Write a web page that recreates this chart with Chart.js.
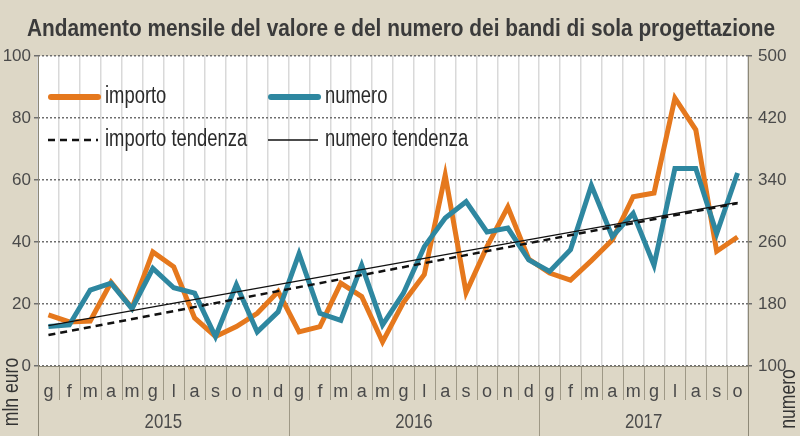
<!DOCTYPE html>
<html lang="it">
<head>
<meta charset="utf-8">
<title>Bandi di sola progettazione</title>
<script src="https://cdn.jsdelivr.net/npm/chart.js@4/dist/chart.umd.min.js"></script>
<style>
  html, body { margin: 0; padding: 0; background: #ddd7c6; }
  #wrap { width: 800px; height: 436px; }
</style>
</head>
<body>
<div id="wrap"><canvas id="grafico" width="800" height="436"></canvas></div>
<script>
/* Andamento mensile bandi di sola progettazione: importo (mln euro, asse sx)
   e numero (asse dx), con le due rette di tendenza. */

const TITOLO = "Andamento mensile del valore e del numero dei bandi di sola progettazione";
const MESI = ["g", "f", "m", "a", "m", "g", "l", "a", "s", "o", "n", "d",
              "g", "f", "m", "a", "m", "g", "l", "a", "s", "o", "n", "d",
              "g", "f", "m", "a", "m", "g", "l", "a", "s", "o"];
const ANNI = ["2015", "2016", "2017"];
const MESI_PER_ANNO = [12, 12, 10];

const IMPORTO = [16.5, 14.2, 14.5, 27, 18.7, 36.8, 32, 15.5, 9.5, 12.7, 17, 24,
                 11, 12.7, 26.7, 22.4, 7.8, 20.5, 29.5, 61.6, 23.7, 38.5, 51.3, 34.5,
                 30, 27.7, 34, 40.6, 54.6, 55.8, 86.4, 76.2, 37, 41.6];
const NUMERO = [151, 153, 198, 207, 174, 226, 201, 194, 138, 205, 144, 170,
                245, 168, 159, 230, 153, 194, 254, 291, 312, 273, 278, 237,
                222, 250, 333, 267, 297, 230, 355, 355, 271, 349];
// tendenze: valore al primo e all'ultimo mese
const IMPORTO_TENDENZA = [10, 52.5];
const NUMERO_TENDENZA = [152, 311];

const TICK_EURO = [0, 20, 40, 60, 80, 100];
const TICK_NUMERO = [100, 180, 260, 340, 420, 500];

const ARANCIO = "#e5781d";
const BLU = "#2e87a0";
const BEIGE = "#ddd7c6";
const FONT = "'Liberation Sans', Arial, sans-serif";
const STRETTO = 0.8; // il carattere originale è condensato

// testo condensato: scala orizzontale sul canvas
function testo(ctx, t, x, y, font, colore, allinea = "left", ruota = 0) {
  ctx.save();
  ctx.font = font;
  ctx.fillStyle = colore;
  ctx.textAlign = allinea;
  ctx.textBaseline = "middle";
  ctx.translate(x, y);
  if (ruota) ctx.rotate(ruota);
  ctx.scale(STRETTO, 1);
  ctx.fillText(t, 0, 0);
  ctx.restore();
}

const tendenza = (estremi) =>
  MESI.map((_, i) => (i === 0 ? estremi[0] : i === MESI.length - 1 ? estremi[1] : null));

const sfondo = {
  id: "sfondo",
  beforeDraw(chart) {
    const { ctx, chartArea: a } = chart;
    ctx.save();
    ctx.fillStyle = BEIGE;
    ctx.fillRect(0, 0, chart.width, chart.height);
    ctx.fillStyle = "#fff";
    ctx.fillRect(a.left, a.top, a.right - a.left, a.bottom - a.top);
    ctx.restore();
  },
};

const decorazioni = {
  id: "decorazioni",
  afterDraw(chart) {
    const { ctx, chartArea: a, scales } = chart;
    const x = scales.x;
    ctx.save();

    // titolo, adattato alla larghezza
    ctx.font = `bold 23px ${FONT}`;
    const sx = 748 / ctx.measureText(TITOLO).width;
    ctx.save();
    ctx.fillStyle = "#3b3b3b";
    ctx.textAlign = "center";
    ctx.textBaseline = "middle";
    ctx.translate(401, 30);
    ctx.scale(sx, 1);
    ctx.fillText(TITOLO, 0, 0);
    ctx.restore();

    // separatori dei mesi e degli anni sotto l'area del grafico
    const confine = (i) => (x.getPixelForValue(i - 1) + x.getPixelForValue(i)) / 2;
    const fineAnno = [];
    MESI_PER_ANNO.reduce((s, n) => { fineAnno.push(s + n); return s + n; }, 0);
    ctx.strokeStyle = "#9e9886";
    ctx.lineWidth = 1;
    for (let i = 1; i < MESI.length; i++) {
      const px = Math.round(confine(i)) + 0.5;
      const lungo = fineAnno.includes(i);
      ctx.beginPath();
      ctx.moveTo(px, a.bottom);
      ctx.lineTo(px, lungo ? chart.height : a.bottom + 34);
      ctx.stroke();
    }
    // bordi verticali
    ctx.strokeStyle = "#8d8877";
    [a.left, a.right].forEach((bx) => {
      ctx.beginPath();
      ctx.moveTo(Math.round(bx) + 0.5, a.top);
      ctx.lineTo(Math.round(bx) + 0.5, chart.height);
      ctx.stroke();
    });
    ctx.beginPath();
    ctx.moveTo(a.left, a.bottom + 0.5);
    ctx.lineTo(a.right, a.bottom + 0.5);
    ctx.stroke();

    // etichette degli anni
    let inizio = 0;
    ANNI.forEach((anno, k) => {
      const fine = inizio + MESI_PER_ANNO[k] - 1;
      const cx = (x.getPixelForValue(inizio) + x.getPixelForValue(fine)) / 2;
      testo(ctx, anno, cx, a.bottom + 56, `21px ${FONT}`, "#4a4a4a", "center");
      inizio = fine + 1;
    });

    // titoli degli assi, ruotati
    testo(ctx, "mln euro", 12, 392, `22px ${FONT}`, "#333", "center", -Math.PI / 2);
    testo(ctx, "numero", 789, 399, `22px ${FONT}`, "#333", "center", -Math.PI / 2);

    // legenda dentro l'area del grafico
    const voci = [[0, 48, 97], [1, 268, 97], [2, 48, 140], [3, 268, 140]];
    voci.forEach(([d, lx, ly]) => {
      const ds = chart.data.datasets[d];
      ctx.save();
      ctx.strokeStyle = ds.borderColor;
      ctx.lineWidth = d < 2 ? 6 : ds.borderWidth;
      ctx.lineCap = d < 2 ? "round" : "butt";
      ctx.setLineDash(ds.borderDash || []);
      ctx.beginPath();
      ctx.moveTo(d < 2 ? lx + 3 : lx, ly);
      ctx.lineTo(lx + 50, ly);
      ctx.stroke();
      ctx.restore();
      testo(ctx, ds.label, lx + 57, ly, `23px ${FONT}`, "#2b2b2b");
    });
    ctx.restore();
  },
};

new Chart(document.getElementById("grafico"), {
  type: "line",
  data: {
    labels: MESI,
    datasets: [
      { label: "importo", data: IMPORTO, yAxisID: "yEuro", borderColor: ARANCIO,
        borderWidth: 5, order: 3 },
      { label: "numero", data: NUMERO, yAxisID: "yNum", borderColor: BLU,
        borderWidth: 5, order: 2 },
      { label: "importo tendenza", data: tendenza(IMPORTO_TENDENZA), yAxisID: "yEuro",
        borderColor: "#111", borderWidth: 2.5, borderDash: [7, 5], spanGaps: true, order: 1 },
      { label: "numero tendenza", data: tendenza(NUMERO_TENDENZA), yAxisID: "yNum",
        borderColor: "#111", borderWidth: 1.3, spanGaps: true, order: 0 },
    ],
  },
  options: {
    responsive: false,
    animation: false,
    events: [],
    elements: { point: { radius: 0 }, line: { tension: 0, borderJoinStyle: "miter" } },
    layout: { padding: { top: 56, left: 0, right: 0, bottom: 0 } },
    plugins: { legend: { display: false }, tooltip: { enabled: false }, title: { display: false } },
    scales: {
      x: {
        offset: true,
        grid: { offset: true, color: "#d9d9d9", lineWidth: 1.5, drawTicks: false },
        border: { display: false },
        ticks: { font: { family: FONT, size: 18 }, color: "#4a4a4a", padding: 15,
          maxRotation: 0, autoSkip: false },
        afterFit: (s) => { s.height = 70; },
      },
      yEuro: {
        position: "left",
        min: TICK_EURO[0], max: TICK_EURO[TICK_EURO.length - 1],
        afterBuildTicks: (s) => { s.ticks = TICK_EURO.map((v) => ({ value: v })); },
        grid: { color: "#6e6e6e", lineWidth: 1.5, tickLength: 4, tickColor: "#6e6e6e" },
        border: { display: false, dash: [2, 2] },
        ticks: { font: { family: FONT, size: 17 }, color: "#4a4a4a", padding: 3 },
        afterFit: (s) => { s.width = 38; },
      },
      yNum: {
        position: "right",
        min: TICK_NUMERO[0], max: TICK_NUMERO[TICK_NUMERO.length - 1],
        afterBuildTicks: (s) => { s.ticks = TICK_NUMERO.map((v) => ({ value: v })); },
        grid: { drawOnChartArea: false, tickLength: 4, tickColor: "#6e6e6e", lineWidth: 1.5 },
        border: { display: false },
        ticks: { font: { family: FONT, size: 17 }, color: "#4a4a4a", padding: 6 },
        afterFit: (s) => { s.width = 52; },
      },
    },
  },
  plugins: [sfondo, decorazioni],
});
</script>
</body>
</html>
